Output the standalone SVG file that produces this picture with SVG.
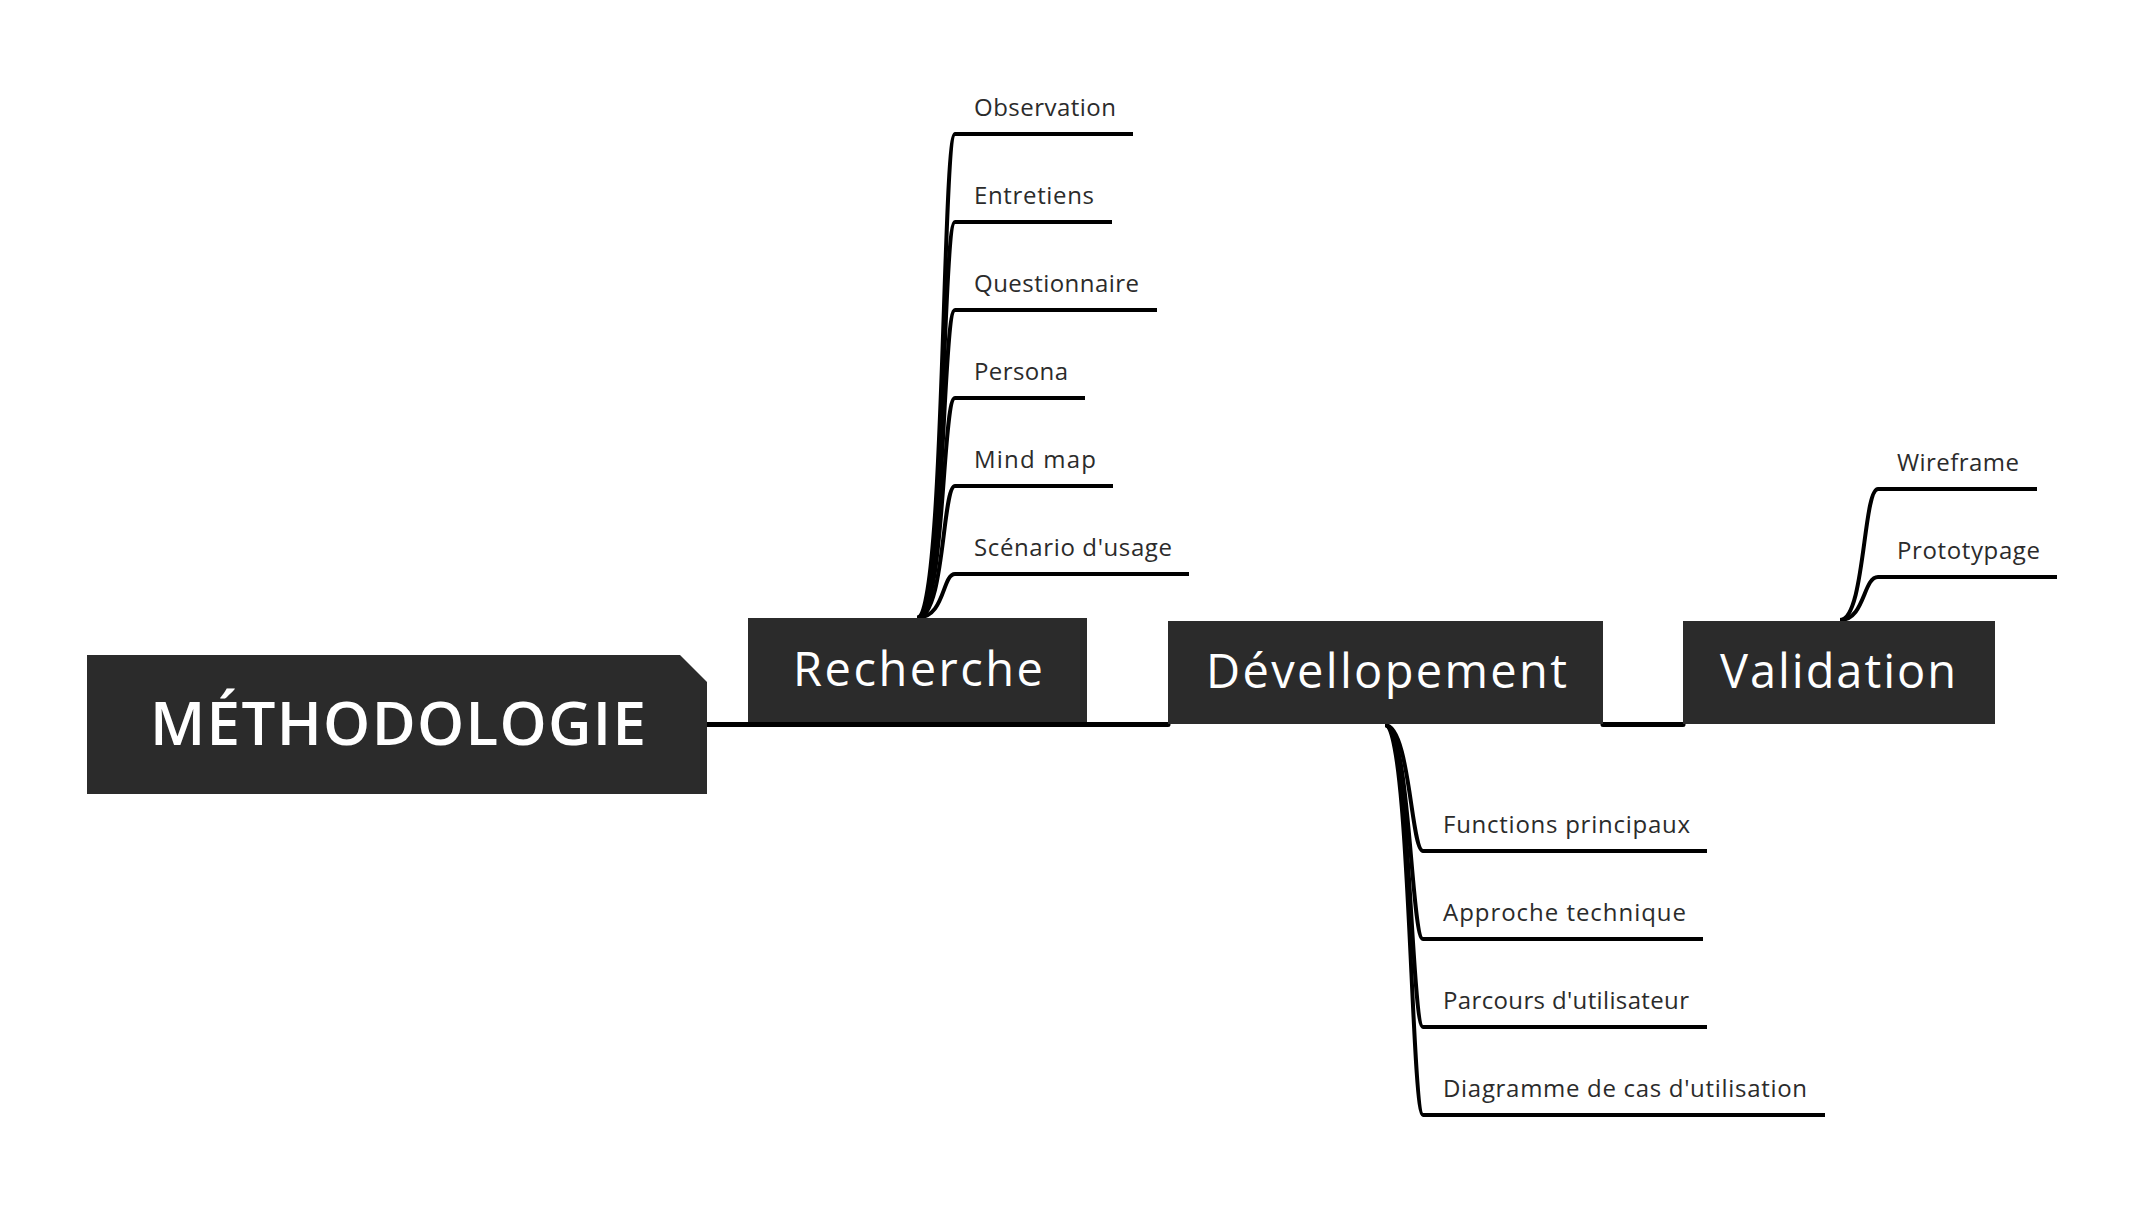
<svg xmlns="http://www.w3.org/2000/svg" width="2145" height="1205" viewBox="0 0 2145 1205">
<style>
.box{fill:#2b2b2b}
.main{fill:none;stroke:#000;stroke-width:5;stroke-linecap:round}
.br{fill:none;stroke:#000;stroke-width:4;stroke-linecap:butt}
.t1{font-family:"Open Sans","Liberation Sans",sans-serif;font-weight:600;font-size:60px;fill:#fff}
.t2{font-family:"Open Sans","Liberation Sans",sans-serif;font-size:47px;fill:#fff}
.t3{font-family:"Open Sans","Liberation Sans",sans-serif;font-size:24px;fill:#2b2b2b}
</style>
<rect width="2145" height="1205" fill="#fff"/>
<g id="connectors">
<path class="main" d="M707,724.5 H1168"/>
<path class="main" d="M1603,724.5 H1683"/>
<path class="br" d="M917,618 C945,618 942,134 955,134 H1133"/>
<path class="br" d="M917,618 C945,618 942,222 955,222 H1112"/>
<path class="br" d="M917,618 C945,618 942,310 955,310 H1157"/>
<path class="br" d="M917,618 C945,618 942,398 955,398 H1085"/>
<path class="br" d="M917,618 C945,618 942,486 955,486 H1113"/>
<path class="br" d="M917,618 C945,618 942,574 955,574 H1189"/>
<path class="br" d="M1385,725 C1410,725 1411,851 1423,851 H1707"/>
<path class="br" d="M1385,725 C1410,725 1411,939 1423,939 H1703"/>
<path class="br" d="M1385,725 C1410,725 1411,1027 1423,1027 H1707"/>
<path class="br" d="M1385,725 C1410,725 1411,1115 1423,1115 H1825"/>
<path class="br" d="M1840,620 C1865,620 1863,489 1878,489 H2037"/>
<path class="br" d="M1840,620 C1865,620 1863,577 1878,577 H2057"/>
</g>
<g id="node-methodologie">
<polygon class="box" points="87,655 680,655 707,682 707,794 87,794"/>
<text class="t1" x="150" y="745" textLength="496">MÉTHODOLOGIE</text>
</g>
<g id="node-recherche">
<rect class="box" x="748" y="618" width="339" height="104"/>
<text class="t2" x="793" y="686" textLength="250">Recherche</text>
</g>
<g id="node-developpement">
<rect class="box" x="1168" y="621" width="435" height="103"/>
<text class="t2" x="1206" y="688" textLength="361">Dévellopement</text>
</g>
<g id="node-validation">
<rect class="box" x="1683" y="621" width="312" height="103"/>
<text class="t2" x="1720" y="688" textLength="236">Validation</text>
</g>
<g id="node-observation"><text class="t3" x="974" y="116" textLength="142">Observation</text></g>
<g id="node-entretiens"><text class="t3" x="974" y="204" textLength="120">Entretiens</text></g>
<g id="node-questionnaire"><text class="t3" x="974" y="292" textLength="165">Questionnaire</text></g>
<g id="node-persona"><text class="t3" x="974" y="380" textLength="94">Persona</text></g>
<g id="node-mindmap"><text class="t3" x="974" y="468" textLength="122">Mind map</text></g>
<g id="node-scenario"><text class="t3" x="974" y="556" textLength="198">Scénario d'usage</text></g>
<g id="node-functions"><text class="t3" x="1443" y="833" textLength="247">Functions principaux</text></g>
<g id="node-approche"><text class="t3" x="1443" y="921" textLength="243">Approche technique</text></g>
<g id="node-parcours"><text class="t3" x="1443" y="1009" textLength="246">Parcours d'utilisateur</text></g>
<g id="node-diagramme"><text class="t3" x="1443" y="1097" textLength="364">Diagramme de cas d'utilisation</text></g>
<g id="node-wireframe"><text class="t3" x="1897" y="471" textLength="122">Wireframe</text></g>
<g id="node-prototypage"><text class="t3" x="1897" y="559" textLength="143">Prototypage</text></g>
</svg>
